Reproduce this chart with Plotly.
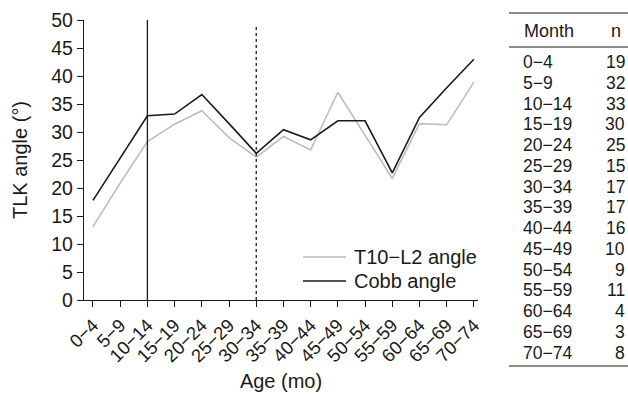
import plotly.graph_objects as go

categories = ["0−4", "5−9", "10−14", "15−19", "20−24", "25−29", "30−34", "35−39",
              "40−44", "45−49", "50−54", "55−59", "60−64", "65−69", "70−74"]
t10l2_angle = [13.1, 20.9, 28.3, 31.4, 33.8, 29.0, 25.5, 29.2, 26.8, 37.1, 29.4, 21.7, 31.5, 31.3, 38.9]
cobb_angle = [17.8, 25.4, 32.9, 33.2, 36.7, 31.5, 26.2, 30.4, 28.6, 32.0, 32.0, 22.7, 32.6, 37.9, 43.0]
table_months = categories
table_n = [19, 32, 33, 30, 25, 15, 17, 17, 16, 10, 9, 11, 4, 3, 8]
y_ticks = list(range(0, 51, 5))
series_names = ["T10−L2 angle", "Cobb angle"]
series_colors = ["#bdbdbd", "#1a1a1a"]

FONT = "Liberation Sans, Arial, sans-serif"
INK = "#1a1a1a"
W, H = 628, 394
ML, MR, MT, MB = 84, 150, 20, 94
PW, PH = W - ML - MR, H - MT - MB


def pxp(xp):
    return (xp - ML) / PW


def pyp(yp):
    return (H - MB - yp) / PH


fig = go.Figure()
for name, vals, col in zip(series_names, [t10l2_angle, cobb_angle], series_colors):
    fig.add_trace(go.Scatter(x=categories, y=vals, mode="lines", name=name,
                             line=dict(color=col, width=1.6), showlegend=False))

i_solid = categories.index("10−14")
i_dash = categories.index("30−34")
fig.add_shape(type="line", xref="x", yref="y", x0=i_solid, x1=i_solid, y0=0, y1=50,
              line=dict(color=INK, width=1.3))
fig.add_shape(type="line", xref="x", yref="y", x0=i_dash, x1=i_dash, y0=0, y1=49.2,
              line=dict(color=INK, width=1.3, dash="dot"))

# manual legend
for k, (name, col) in enumerate(zip(series_names, series_colors)):
    yy = 257 + k * 24
    fig.add_shape(type="line", xref="paper", yref="paper", x0=pxp(303), x1=pxp(346),
                  y0=pyp(yy), y1=pyp(yy), line=dict(color=col, width=1.6))
    fig.add_annotation(xref="paper", yref="paper", x=pxp(352), y=pyp(yy), text=name,
                       showarrow=False, xanchor="left", yanchor="middle",
                       font=dict(size=20, color=INK, family=FONT))

# table
x_left, x_right = 509, 628
for yy in [13, 47, 366]:
    fig.add_shape(type="line", xref="paper", yref="paper", x0=pxp(x_left), x1=pxp(x_right),
                  y0=pyp(yy), y1=pyp(yy), line=dict(color=INK, width=1.2))

fig.add_annotation(xref="paper", yref="paper", x=pxp(522), y=pyp(31), text="Month",
                   showarrow=False, xanchor="left", yanchor="middle",
                   font=dict(size=18, color=INK, family=FONT))
fig.add_annotation(xref="paper", yref="paper", x=pxp(623), y=pyp(31), text="n",
                   showarrow=False, xanchor="right", yanchor="middle",
                   font=dict(size=18, color=INK, family=FONT))
row0, dy = 62, 20.75
for i, (m, n) in enumerate(zip(table_months, table_n)):
    yy = row0 + i * dy
    fig.add_annotation(xref="paper", yref="paper", x=pxp(521), y=pyp(yy), text=m,
                       showarrow=False, xanchor="left", yanchor="middle",
                       font=dict(size=17.5, color=INK, family=FONT))
    fig.add_annotation(xref="paper", yref="paper", x=pxp(627), y=pyp(yy), text=str(n),
                       showarrow=False, xanchor="right", yanchor="middle",
                       font=dict(size=17.5, color=INK, family=FONT))

fig.update_layout(
    width=W, height=H,
    margin=dict(l=ML, r=MR, t=MT, b=MB, autoexpand=False),
    paper_bgcolor="white", plot_bgcolor="white",
    font=dict(family=FONT, size=18, color=INK),
    showlegend=False,
    xaxis=dict(type="category", range=[-0.33, 14.15], showline=True, linecolor=INK,
               linewidth=1.3, ticks="outside", ticklen=6, tickcolor=INK, tickwidth=1.3,
               tickangle=-45, showgrid=False, zeroline=False, automargin=False,
               tickfont=dict(size=18.5),
               title=dict(text="Age (mo)", standoff=8, font=dict(size=20))),
    yaxis=dict(range=[0, 50], tickvals=y_ticks, showline=True, linecolor=INK,
               linewidth=1.3, ticks="outside", ticklen=6, tickcolor=INK, tickwidth=1.3,
               showgrid=False, zeroline=False, automargin=False,
               tickfont=dict(size=19.5),
               title=dict(text="TLK angle (°)", standoff=18, font=dict(size=20))),
)

fig.write_html("out.html", config={"displayModeBar": False},
               post_script="document.body.style.margin='0';")
